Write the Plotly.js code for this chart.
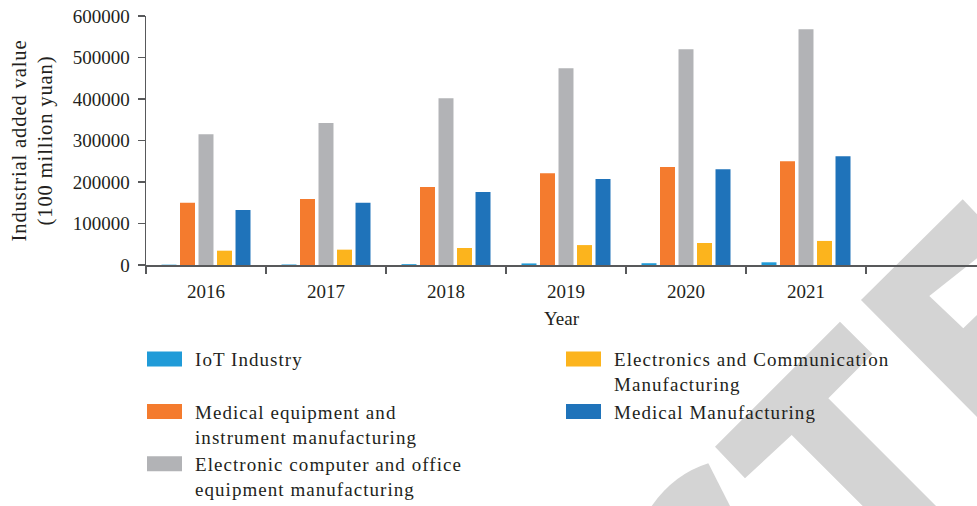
<!DOCTYPE html>
<html>
<head>
<meta charset="utf-8">
<script src="https://cdn.plot.ly/plotly-3.0.1.min.js"></script>
<style>
  html, body { margin: 0; padding: 0; background: #ffffff; }
  #chart { width: 977px; height: 506px; }
  #chart .legendtext { letter-spacing: 1.05px; }
  #chart .g-ytitle text { letter-spacing: 0.9px; }
</style>
</head>
<body>
<div id="chart"></div>
<script>
// ---------------- data ----------------
const years = ['2016', '2017', '2018', '2019', '2020', '2021'];

const iotIndustry          = [800, 1200, 2000, 3800, 4300, 6500];
const medicalEquipment     = [150000, 159000, 188000, 221000, 236000, 250000];
const electronicComputer   = [315000, 342000, 402000, 474000, 520000, 568000];
const electronicsComm      = [34500, 37000, 41000, 48000, 53000, 58000];
const medicalManufacturing = [132500, 150000, 176000, 207000, 231000, 262000];

const seriesNames = [
  'IoT Industry',
  'Medical equipment and<br>instrument manufacturing',
  'Electronic computer and office<br>equipment manufacturing',
  'Electronics and Communication<br>Manufacturing',
  'Medical Manufacturing'
];
const seriesValues = [iotIndustry, medicalEquipment, electronicComputer, electronicsComm, medicalManufacturing];
const seriesColors = ['#209bd8', '#f47b2e', '#b2b3b6', '#fcb41d', '#1f73ba'];
const legendRanks  = [1, 3, 5, 2, 4];

const yTickValues = [0, 100000, 200000, 300000, 400000, 500000, 600000];

// ---------------- layout helpers ----------------
const W = 977, H = 506;
const M = { l: 146, r: 0, t: 16, b: 241, autoexpand: false };
const plotW = W - M.l - M.r, plotH = H - M.t - M.b;
function px(x) { return ((x - M.l) / plotW).toFixed(4); }
function py(y) { return ((H - M.b - y) / plotH).toFixed(4); }
function polyPath(pts) {
  return 'M' + pts.map(p => px(p[0]) + ',' + py(p[1])).join(' L') + ' Z';
}

// decorative watermark fragments (paper coordinates)
const wmColor = '#d4d4d4';
const watermarkShapes = [
  polyPath([[962.7,199.3],[977,214.3],[977,258.3],[929.3,296],[963.3,328.3],[977,315],[977,417],[861,300]]),
  polyPath([[840,321.7],[872.5,354],[828.3,398.3],[936,506],[862.7,506],[791.7,435],[745,478.3],[715,446.7]]),
  'M' + px(651.7) + ',' + py(506) + ' Q' + px(674) + ',' + py(474) + ' ' + px(708.3) + ',' + py(463.3) +
    ' L' + px(730) + ',' + py(506) + ' Z'
].map(p => ({
  type: 'path', xref: 'paper', yref: 'paper', path: p,
  fillcolor: wmColor, line: { width: 0 }, layer: 'below'
}));

// ---------------- traces ----------------
const traces = seriesNames.map((name, i) => ({
  type: 'bar',
  name: name,
  x: years,
  y: seriesValues[i],
  marker: { color: seriesColors[i], line: { width: 0 } },
  legendrank: legendRanks[i],
  hoverinfo: 'x+y+name'
}));

const textColor = '#231f20';
const axisColor = '#58595b';

const layout = {
  width: W, height: H,
  margin: M,
  paper_bgcolor: '#ffffff',
  plot_bgcolor: 'rgba(0,0,0,0)',
  font: { family: '"Liberation Serif", "Times New Roman", serif', size: 19, color: textColor },
  barmode: 'group',
  bargap: 0.229,
  bargroupgap: 0.19,
  showlegend: true,
  xaxis: {
    type: 'category',
    range: [-0.5, 6.425],
    tickson: 'boundaries',
    ticks: 'outside', ticklen: 7, tickwidth: 1.5, tickcolor: axisColor,
    ticklabelstandoff: 9,
    showline: true, linecolor: axisColor, linewidth: 1.5,
    showgrid: false, zeroline: false,
    tickfont: { size: 19, color: textColor },
    title: { text: 'Year', font: { size: 19, color: textColor }, standoff: 10 },
    fixedrange: true
  },
  yaxis: {
    range: [0, 600000],
    tickvals: yTickValues,
    tickformat: 'd',
    ticks: 'outside', ticklen: 7, tickwidth: 1.5, tickcolor: axisColor,
    ticklabelstandoff: 4,
    showline: true, linecolor: axisColor, linewidth: 1.5,
    showgrid: false, zeroline: false,
    tickfont: { size: 19, color: textColor },
    title: { text: 'Industrial added value<br>(100 million yuan)', font: { size: 20.5, color: textColor }, standoff: 14 },
    fixedrange: true
  },
  legend: {
    orientation: 'h',
    x: -0.0012, xanchor: 'left',
    y: -0.302, yanchor: 'top',
    indentation: 10,
    entrywidth: 364, entrywidthmode: 'pixels',
    valign: 'top',
    font: { size: 19, color: textColor },
    bgcolor: 'rgba(0,0,0,0)',
    borderwidth: 0
  },
  shapes: watermarkShapes
};

function widenSwatches(gd) {
  gd.querySelectorAll('.legend .legendpoints path').forEach(p => {
    p.setAttribute('d', 'M7,7.5H-28V-7.5H7Z');
  });
}

Plotly.newPlot('chart', traces, layout, { staticPlot: true, displayModeBar: false }).then(gd => {
  widenSwatches(gd);
  gd.on('plotly_afterplot', () => widenSwatches(gd));
  setTimeout(() => widenSwatches(gd), 50);
});
</script>
</body>
</html>
